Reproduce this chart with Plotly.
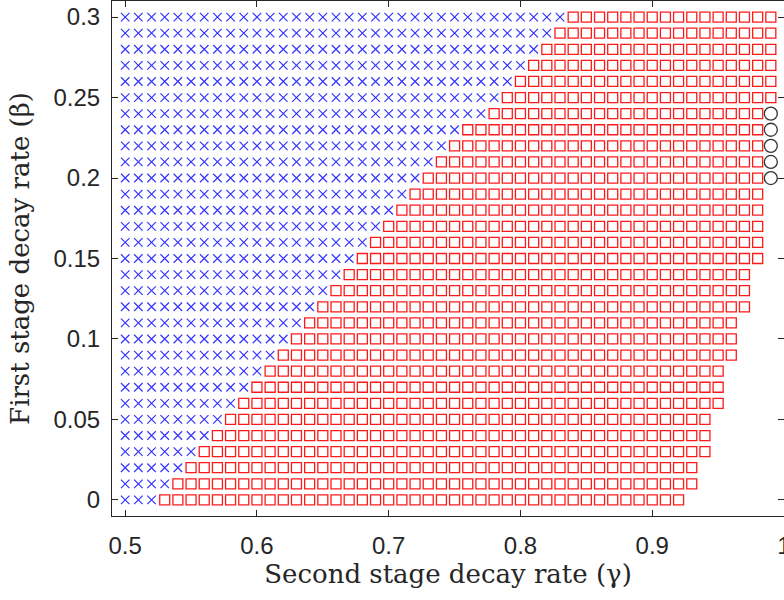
import plotly.graph_objects as go

# ---- data ----
beta = [0.00, 0.01, 0.02, 0.03, 0.04, 0.05, 0.06, 0.07, 0.08, 0.09, 0.10,
        0.11, 0.12, 0.13, 0.14, 0.15, 0.16, 0.17, 0.18, 0.19, 0.20,
        0.21, 0.22, 0.23, 0.24, 0.25, 0.26, 0.27, 0.28, 0.29, 0.30]
gamma_grid = [0.50, 0.51, 0.52, 0.53, 0.54, 0.55, 0.56, 0.57, 0.58, 0.59,
              0.60, 0.61, 0.62, 0.63, 0.64, 0.65, 0.66, 0.67, 0.68, 0.69,
              0.70, 0.71, 0.72, 0.73, 0.74, 0.75, 0.76, 0.77, 0.78, 0.79,
              0.80, 0.81, 0.82, 0.83, 0.84, 0.85, 0.86, 0.87, 0.88, 0.89,
              0.90, 0.91, 0.92, 0.93, 0.94, 0.95, 0.96, 0.97, 0.98, 0.99]
# first gamma showing a red square, per beta row
first_square = [0.53, 0.54, 0.55, 0.56, 0.57, 0.58, 0.59, 0.60, 0.61, 0.62, 0.63,
                0.64, 0.65, 0.66, 0.67, 0.68, 0.69, 0.70, 0.71, 0.72, 0.73,
                0.74, 0.75, 0.76, 0.78, 0.79, 0.80, 0.81, 0.82, 0.83, 0.84]
# last gamma showing a red square, per beta row
last_square = [0.92, 0.93, 0.93, 0.94, 0.94, 0.94, 0.95, 0.95, 0.95, 0.96, 0.96,
               0.96, 0.97, 0.97, 0.97, 0.98, 0.98, 0.98, 0.98, 0.98, 0.98,
               0.98, 0.98, 0.98, 0.98, 0.99, 0.99, 0.99, 0.99, 0.99, 0.99]
circle_beta = [0.20, 0.21, 0.22, 0.23, 0.24]
circle_gamma = [0.99, 0.99, 0.99, 0.99, 0.99]

x_ticks = [0.5, 0.6, 0.7, 0.8, 0.9, 1.0]
x_ticktext = ["0.5", "0.6", "0.7", "0.8", "0.9", "1"]
y_ticks = [0, 0.05, 0.1, 0.15, 0.2, 0.25, 0.3]
y_ticktext = ["0", "0.05", "0.1", "0.15", "0.2", "0.25", "0.3"]

# ---- build point sets ----
bx, by, sx, sy = [], [], [], []
for b, f, l in zip(beta, first_square, last_square):
    for g in gamma_grid:
        if g < f - 1e-9:
            bx.append(g); by.append(b)
        elif g <= l + 1e-9:
            sx.append(g); sy.append(b)

fig = go.Figure()
fig.add_trace(go.Scatter(x=bx, y=by, mode="markers",
                         marker=dict(symbol="x-thin", size=8.5, color="#3333ff",
                                     line=dict(width=1.2, color="#3333ff")),
                         showlegend=False, hoverinfo="skip"))
fig.add_trace(go.Scatter(x=sx, y=sy, mode="markers",
                         marker=dict(symbol="square-open", size=10, color="#ff1a1a",
                                     line=dict(width=1.3, color="#ff1a1a")),
                         showlegend=False, hoverinfo="skip"))
fig.add_trace(go.Scatter(x=circle_gamma, y=circle_beta, mode="markers",
                         marker=dict(symbol="circle-open", size=13, color="#333333",
                                     line=dict(width=1.3, color="#333333")),
                         showlegend=False, hoverinfo="skip"))

axis_common = dict(showline=True, linecolor="#262626", linewidth=1, mirror="allticks",
                   ticks="inside", ticklen=6, tickwidth=1, tickcolor="#262626",
                   showgrid=False, zeroline=False, ticklabeloverflow="allow",
                   automargin=False,
                   tickfont=dict(family="Liberation Sans, Arial", size=24, color="#262626"))

title_font = dict(family="DejaVu Serif", size=26, color="#262626")

fig.update_layout(
    width=784, height=600,
    margin=dict(l=112, r=0, t=1, b=84),
    plot_bgcolor="white", paper_bgcolor="white",
    xaxis=dict(range=[0.49, 1.0], tickvals=x_ticks, ticktext=x_ticktext,
               title=dict(text="Second stage decay rate (γ)", font=title_font, standoff=0),
               ticklabelstandoff=8, **axis_common),
    yaxis=dict(range=[-0.01, 0.31], tickvals=y_ticks, ticktext=y_ticktext,
               title=dict(text="First stage decay rate (β)", font=title_font, standoff=16),
               ticklabelstandoff=6, **axis_common),
)

fig.write_html("out.html")
